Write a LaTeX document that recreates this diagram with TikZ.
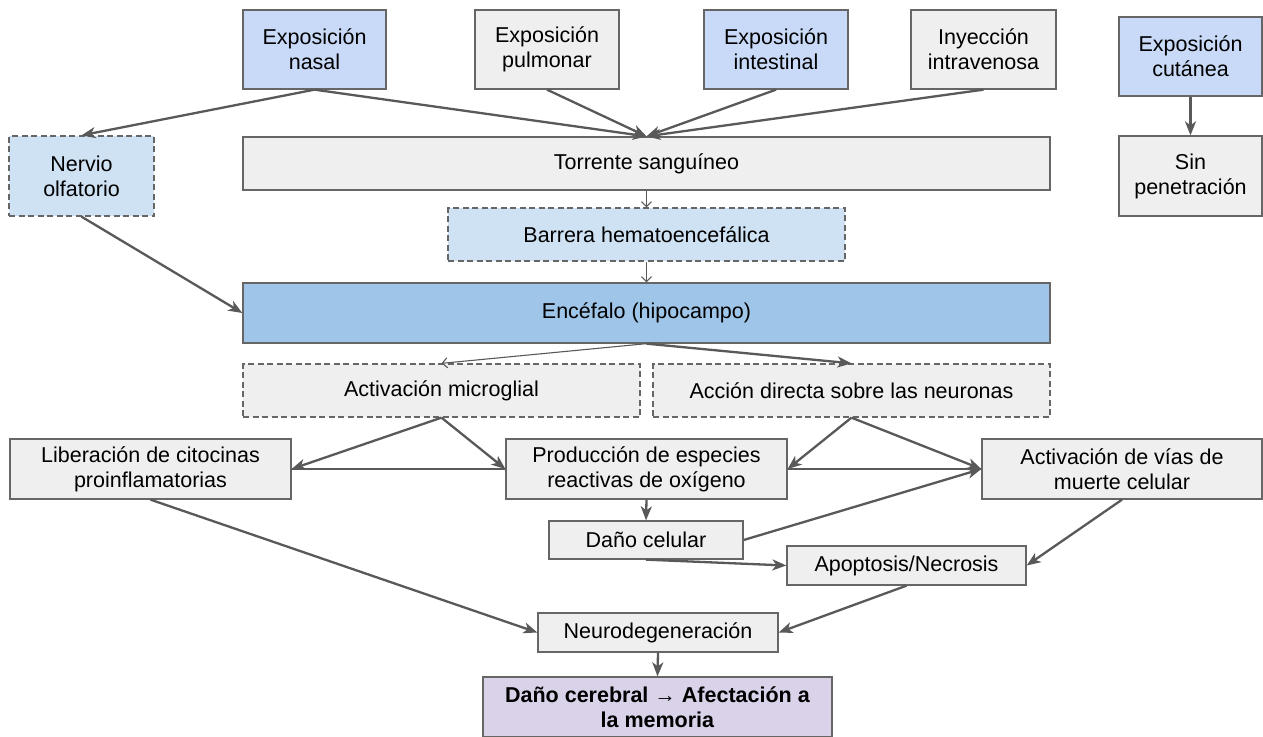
\documentclass[tikz,border=0pt]{standalone}
\usepackage{fontspec}
\setmainfont{Liberation Sans}
\usetikzlibrary{arrows.meta}
\definecolor{grayfill}{HTML}{EFEFEF}
\definecolor{bluefill}{HTML}{C9DAF8}
\definecolor{lbluefill}{HTML}{CFE2F3}
\definecolor{encfill}{HTML}{9FC5E8}
\definecolor{purplefill}{HTML}{D9D2E9}
\definecolor{edgec}{HTML}{666666}
\definecolor{arrowc}{HTML}{595959}
\newcommand\mybox[7][]{\node[box,#1,minimum width={(#4-#2)*1pt},minimum height={(#5-#3)*1pt}] (#6) at ({(#2+#4)/2},{(#3+#5)/2}) {#7};}
\tikzset{
  box/.style={draw=edgec, line width=1.3pt, fill=grayfill, inner sep=0pt, align=center, text=black},
  dbox/.style={dash pattern=on 6pt off 3.5pt},
  thickarr/.style={draw=arrowc, line width=2.3pt, -{Stealth[length=14pt,width=11pt,inset=4pt]}},
  thinarr/.style={draw=arrowc, line width=1.1pt, -{Straight Barb[length=5pt,width=10pt]}},
  plainline/.style={draw=arrowc, line width=2.3pt}
}
\begin{document}
\begin{tikzpicture}[x=1pt,y=-1pt,font=\fontsize{21.5}{25}\selectfont]
\useasboundingbox[fill=white] (0,0) rectangle (1263,736);
% top row
\mybox[fill=bluefill]{243}{10}{386}{89}{nasal}{Exposición\\nasal}
\mybox{475}{10}{619}{89}{pulm}{Exposición\\pulmonar}
\mybox[fill=bluefill]{704}{10}{848}{89}{intest}{Exposición\\intestinal}
\mybox{911}{10}{1056}{89}{iv}{Inyección\\intravenosa}
\mybox[fill=bluefill]{1119}{17}{1262}{96}{cut}{Exposición\\cutánea}
\mybox{1119}{136}{1262}{216}{sinp}{Sin\\penetración}
\mybox[fill=lbluefill,dbox]{9}{136}{154}{216}{nerv}{Nervio\\olfatorio}
\mybox{243}{137}{1050}{190}{torr}{Torrente sanguíneo}
\mybox[fill=lbluefill,dbox]{448}{208}{845}{261}{barr}{Barrera hematoencefálica}
\mybox[fill=encfill]{243}{283}{1050}{343}{enc}{Encéfalo (hipocampo)}
\mybox[dbox]{243}{364}{640}{417}{micro}{Activación microglial}
\mybox[dbox]{653}{364}{1050}{417}{accion}{Acción directa sobre las neuronas}
\mybox{10}{439}{291}{499}{lib}{Liberación de citocinas\\proinflamatorias}
\mybox{506}{439}{787}{499}{prod}{Producción de especies\\reactivas de oxígeno}
\mybox{982}{439}{1262}{499}{vias}{Activación de vías de\\muerte celular}
\mybox{549}{521}{743}{559}{dano}{Daño celular}
\mybox{787}{546}{1026}{585}{apop}{Apoptosis/Necrosis}
\mybox{538}{613}{778}{652}{neuro}{Neurodegeneración}
\mybox[fill=purplefill]{483}{677}{832}{737}{cereb}{\textbf{Daño cerebral → Afectación a}\\\textbf{la memoria}}
% connectors
\draw[thickarr] (nasal.south) -- (nerv.north);
\draw[thickarr] (nasal.south) -- (torr.north);
\draw[thickarr] (pulm.south) -- (torr.north);
\draw[thickarr] (intest.south) -- (torr.north);
\draw[thickarr] (iv.south) -- (torr.north);
\draw[thickarr] (cut.south) -- (sinp.north);
\draw[thinarr] (torr.south) -- (barr.north);
\draw[thinarr] (barr.south) -- (enc.north);
\draw[thickarr] (nerv.south) -- (enc.west);
\draw[thinarr] (enc.south) -- (micro.north);
\draw[thickarr] (enc.south) -- (accion.north);
\draw[plainline] (lib.east) -- (prod.west);
\draw[plainline] (prod.east) -- (vias.west);
\draw[thickarr] (micro.south) -- (lib.east);
\draw[thickarr] (micro.south) -- (prod.west);
\draw[thickarr] (accion.south) -- (prod.east);
\draw[thickarr] (accion.south) -- (vias.west);
\draw[thickarr] (dano.east) -- (vias.west);
\draw[thickarr] (prod.south) -- (dano.north);
\draw[thickarr] (dano.south) -- (apop.west);
\draw[thickarr] (vias.south) -- (apop.east);
\draw[thickarr] (apop.south) -- (neuro.east);
\draw[thickarr] (lib.south) -- (neuro.west);
\draw[thickarr] (neuro.south) -- (cereb.north);
\end{tikzpicture}
\end{document}
